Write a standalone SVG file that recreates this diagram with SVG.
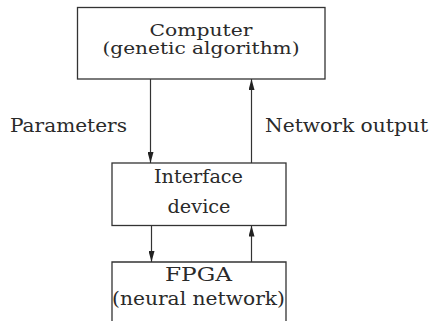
<svg xmlns="http://www.w3.org/2000/svg" width="430" height="321" viewBox="0 0 430 321">
  <style>
    .box { fill: none; stroke: #333; stroke-width: 1.3; }
    .conn { fill: none; stroke: #333; stroke-width: 1.2; }
    .t { font-family: 'DejaVu Serif', 'Liberation Serif', serif; font-size: 19px; fill: #2a2a2a; text-anchor: middle; }
    .s { font-size: 17px; }
  </style>
  <defs>
    <marker id="arrow" viewBox="0 0 11 6" refX="11" refY="3" markerWidth="11" markerHeight="6" markerUnits="userSpaceOnUse" orient="auto">
      <path d="M0,0 L11,3 L0,6 z" fill="#222"/>
    </marker>
  </defs>
  <rect width="430" height="321" fill="#fff"/>
  <g id="computer">
    <rect class="box" x="77.5" y="7.5" width="247.5" height="71.5"/>
    <text class="t s" x="201" y="36" textLength="103" lengthAdjust="spacingAndGlyphs">Computer</text>
    <text class="t s" x="201" y="54" textLength="197" lengthAdjust="spacingAndGlyphs">(genetic algorithm)</text>
  </g>
  <g id="interface">
    <rect class="box" x="112" y="163" width="174" height="62.5"/>
    <text class="t" x="198.5" y="182.5" textLength="89" lengthAdjust="spacingAndGlyphs">Interface</text>
    <text class="t" x="199" y="213.3" textLength="63" lengthAdjust="spacingAndGlyphs">device</text>
  </g>
  <g id="fpga">
    <path class="box" d="M112,321 V262 H286 V321"/>
    <text class="t" x="198.5" y="280.7" textLength="67" lengthAdjust="spacingAndGlyphs">FPGA</text>
    <text class="t" x="198.5" y="305" textLength="173" lengthAdjust="spacingAndGlyphs">(neural network)</text>
  </g>
  <g id="labels">
    <text class="t" x="68.5" y="132" textLength="117" lengthAdjust="spacingAndGlyphs">Parameters</text>
    <text class="t" x="346.5" y="132" textLength="163" lengthAdjust="spacingAndGlyphs">Network output</text>
  </g>
  <g id="connectors">
    <line class="conn" x1="150.5" y1="79" x2="150.5" y2="163" marker-end="url(#arrow)"/>
    <line class="conn" x1="251.5" y1="163" x2="251.5" y2="79" marker-end="url(#arrow)"/>
    <line class="conn" x1="151.5" y1="225.5" x2="151.5" y2="262" marker-end="url(#arrow)"/>
    <line class="conn" x1="251.5" y1="262" x2="251.5" y2="225.5" marker-end="url(#arrow)"/>
  </g>
</svg>
